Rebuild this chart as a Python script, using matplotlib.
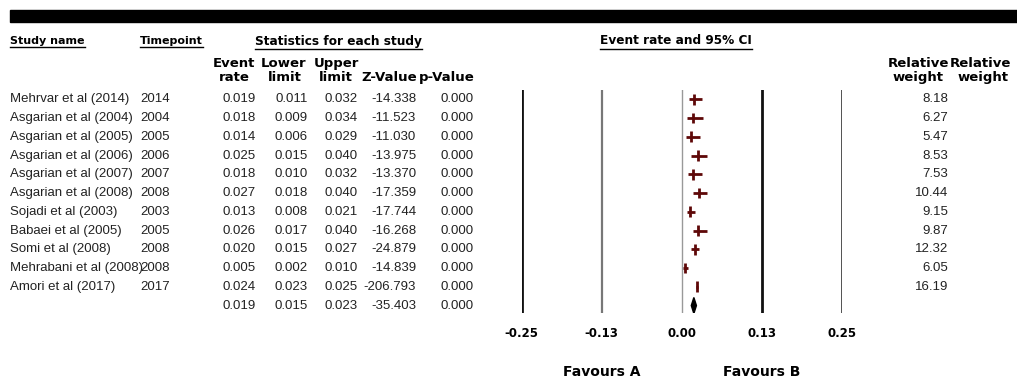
import matplotlib
matplotlib.use("Agg")
import matplotlib.pyplot as plt
from matplotlib.lines import Line2D

# study table data
studies = ["Mehrvar et al (2014)", "Asgarian et al (2004)", "Asgarian et al (2005)",
           "Asgarian et al (2006)", "Asgarian et al (2007)", "Asgarian et al (2008)",
           "Sojadi et al (2003)", "Babaei et al (2005)", "Somi et al (2008)",
           "Mehrabani et al (2008)", "Amori et al (2017)", ""]
timepoints = ["2014", "2004", "2005", "2006", "2007", "2008", "2003", "2005", "2008", "2008", "2017", ""]
rate = [0.019, 0.018, 0.014, 0.025, 0.018, 0.027, 0.013, 0.026, 0.020, 0.005, 0.024, 0.019]
lower = [0.011, 0.009, 0.006, 0.015, 0.010, 0.018, 0.008, 0.017, 0.015, 0.002, 0.023, 0.015]
upper = [0.032, 0.034, 0.029, 0.040, 0.032, 0.040, 0.021, 0.040, 0.027, 0.010, 0.025, 0.023]
zval = [-14.338, -11.523, -11.030, -13.975, -13.370, -17.359, -17.744, -16.268, -24.879,
        -14.839, -206.793, -35.403]
pval = [0.000] * 12
weights = [8.18, 6.27, 5.47, 8.53, 7.53, 10.44, 9.15, 9.87, 12.32, 6.05, 16.19]
ticks = [-0.25, -0.125, 0.0, 0.125, 0.25]
tick_labels = ["-0.25", "-0.13", "0.00", "0.13", "0.25"]

W, H = 1017, 378
fig = plt.figure(figsize=(W / 100, H / 100), dpi=100)

# full-figure axes in pixel units for the table part
tab = fig.add_axes([0, 0, 1, 1])
tab.set_xlim(0, W)
tab.set_ylim(H, 0)
tab.axis("off")

body = dict(family="Liberation Sans", fontsize=9.5, color="#222222", va="center")
bold = dict(family="DejaVu Sans", fontweight="bold", color="black")

ROW0, STEP = 99.3, 18.75

def row_y(i):
    return ROW0 + STEP * i

# top black band
tab.add_patch(plt.Rectangle((10, 10), W - 10, 12, color="black"))

# underlined section headers
underlined = []
for x, s, fs in [(10, "Study name", 8), (140, "Timepoint", 8),
                 (255, "Statistics for each study", 8.7),
                 (600, "Event rate and 95% CI", 8.7)]:
    underlined.append(tab.text(x, 41, s, fontsize=fs, ha="left", va="center", **bold))

# column headers
for x1, x2, s1, s2 in [(234, 234, "Event", "rate"), (284, 285, "Lower", "limit"),
                       (336, 336, "Upper", "limit"), (389, 389, "", "Z-Value"),
                       (447, 447, "", "p-Value"),
                       (918, 918, "Relative", "weight"), (980, 983, "Relative", "weight")]:
    if s1:
        tab.text(x1, 63.5, s1, fontsize=9.5, ha="center", va="center", **bold)
    tab.text(x2, 77.5, s2, fontsize=9.5, ha="center", va="center", **bold)

# table rows
for i in range(len(rate)):
    y = row_y(i)
    tab.text(10, y, studies[i], ha="left", **body)
    tab.text(140, y, timepoints[i], ha="left", **body)
    tab.text(256, y, f"{rate[i]:.3f}", ha="right", **body)
    tab.text(308, y, f"{lower[i]:.3f}", ha="right", **body)
    tab.text(358, y, f"{upper[i]:.3f}", ha="right", **body)
    tab.text(416, y, f"{zval[i]:.3f}", ha="right", **body)
    tab.text(474, y, f"{pval[i]:.3f}", ha="right", **body)
    if i < len(weights):
        tab.text(948, y, f"{weights[i]:.2f}", ha="right", **body)

# forest plot axes
top_px, bot_px = 90, 313
ax = fig.add_axes([521.7 / W, 1 - bot_px / H, 320 / W, (bot_px - top_px) / H])
ax.set_xlim(-0.25, 0.25)
ax.set_ylim((bot_px - ROW0) / STEP, (top_px - ROW0) / STEP)
ax.patch.set_alpha(0)
for sp in ax.spines.values():
    sp.set_visible(False)
ax.set_yticks([])
ax.set_xticks(ticks, tick_labels)
ax.tick_params(axis="x", length=0, pad=10)
for lab in ax.get_xticklabels():
    lab.set_fontfamily("DejaVu Sans")
    lab.set_fontweight("bold")
    lab.set_fontsize(8.5)

line_styles = [("#111111", 2.0), ("#777777", 1.6), ("#999999", 1.0), ("#111111", 2.0), ("#444444", 1.3)]
for t, (c, lw) in zip(ticks, line_styles):
    ax.axvline(t, color=c, lw=lw)

marker_color = "#5e0808"
n = len(weights)
ax.hlines(range(n), lower[:n], upper[:n], color=marker_color, lw=2)
ax.vlines(rate[:n], [i - 0.29 for i in range(n)], [i + 0.29 for i in range(n)],
          color=marker_color, lw=2)

# summary diamond
s = n
ax.fill([lower[s], rate[s], upper[s], rate[s]], [s, s - 0.43, s, s + 0.43], color="black")

xt = ax.get_xaxis_transform()
ax.text(-0.125, -0.265, "Favours A", transform=xt, ha="center", va="center", fontsize=10, **bold)
ax.text(0.125, -0.265, "Favours B", transform=xt, ha="center", va="center", fontsize=10, **bold)

# underline the section headers
fig.canvas.draw()
inv = tab.transData.inverted()
for t in underlined:
    bb = t.get_window_extent()
    (x0, y0), (x1, _) = inv.transform([(bb.x0, bb.y0), (bb.x1, bb.y1)])
    tab.add_line(Line2D([x0, x1], [y0 + 1, y0 + 1], color="black", lw=1))

fig.savefig("out.png", dpi=100)
